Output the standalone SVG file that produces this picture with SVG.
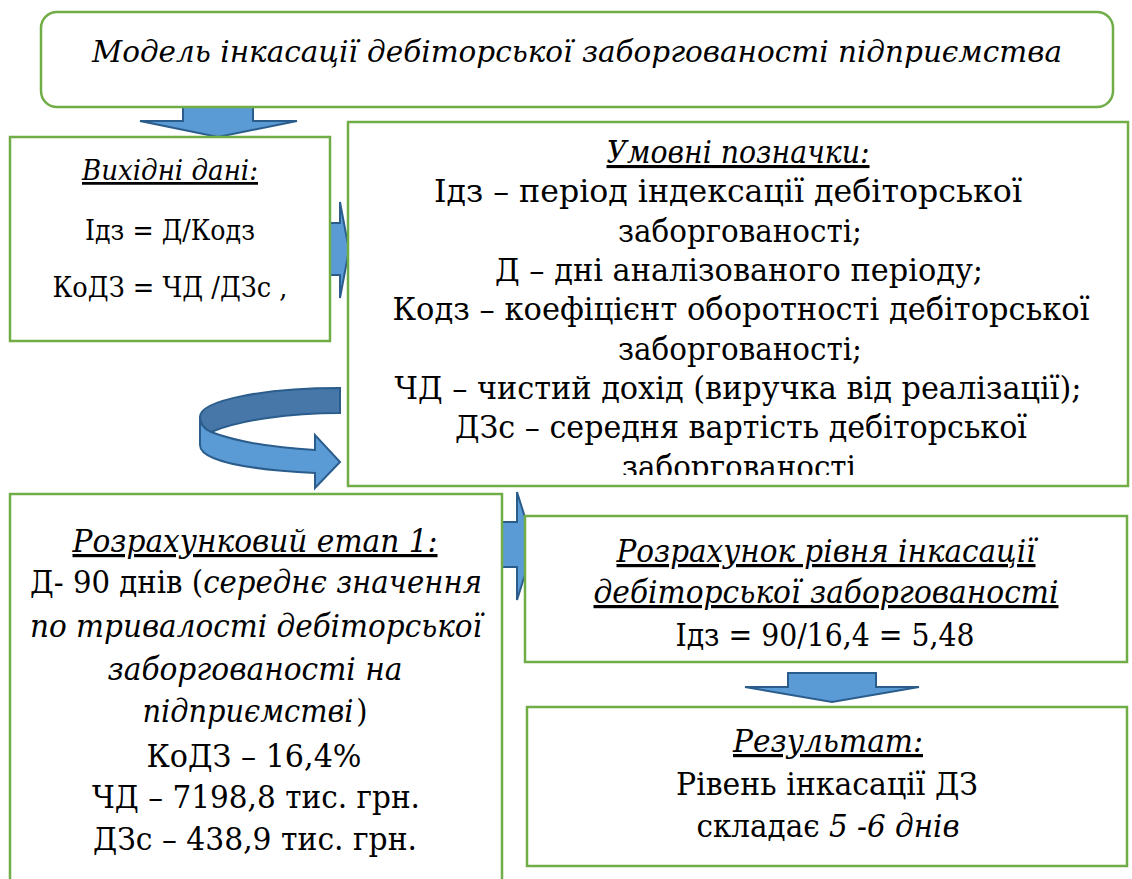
<svg xmlns="http://www.w3.org/2000/svg" width="1132" height="879" viewBox="0 0 1132 879">
<style>
.box{fill:#fff;stroke:#70AD47;stroke-width:2.5}
.arr{fill:#5B9BD5;stroke:#2B5D8C;stroke-width:2;stroke-linejoin:miter}
.arrd{fill:#4677A8;stroke:#2B5D8C;stroke-width:2}
text{font-family:"DejaVu Serif","Liberation Serif",serif;fill:#000;text-anchor:middle}
.it{font-style:italic}
.u{text-decoration:underline}
</style>
<defs>
<clipPath id="clipU"><rect x="348" y="122" width="780" height="353"/></clipPath>
</defs>
<g id="connectors">
<polygon class="arr" points="183,106 253,106 253,121 297,121 218,137 140,121 183,121"/>
<polygon class="arr" points="328,223 340,223 340,202 349,250 340,298 340,275 328,275"/>
<path class="arrd" d="M340,388 C265,388 200,400 200,417 C200,424 204,429 211,432 C240,420 290,413 340,413 Z"/>
<path class="arr" d="M200,417 C200,424 204,429 211,432 C240,443 280,448 315,450 L315,435 L340,462 L315,488 L315,473 C255,470 200,462 200,445 Z"/>
<polygon class="arr" points="502,522 517,522 517,492 534,546 517,600 517,567 502,567"/>
<polygon class="arr" points="788,673 876,673 876,687 919,687 832,702 745,687 788,687"/>
</g>
<g id="title">
<rect class="box" x="41" y="12" width="1072" height="95" rx="16"/>
<text class="it" x="577" y="62" font-size="29.5" textLength="970" lengthAdjust="spacingAndGlyphs">Модель інкасації дебіторської заборгованості підприємства</text>
</g>
<g id="input" font-size="27.5">
<rect class="box" x="10" y="137" width="320" height="204"/>
<text class="it u" x="170" y="180" textLength="176" lengthAdjust="spacingAndGlyphs">Вихідні дані:</text>
<text x="170" y="240" textLength="170" lengthAdjust="spacingAndGlyphs">Ідз = Д/Кодз</text>
<text x="170" y="297" textLength="235" lengthAdjust="spacingAndGlyphs">КоДЗ = ЧД /ДЗс ,</text>
</g>
<g id="legend">
<rect class="box" x="348" y="122" width="780" height="364"/>
<g clip-path="url(#clipU)" font-size="31">
<text class="it u" x="738" y="163" textLength="263" lengthAdjust="spacingAndGlyphs">Умовні позначки:</text>
<text x="728" y="202" textLength="588" lengthAdjust="spacingAndGlyphs">Ідз – період індексації дебіторської</text>
<text x="740" y="242" textLength="244" lengthAdjust="spacingAndGlyphs">заборгованості;</text>
<text x="739" y="281" textLength="488" lengthAdjust="spacingAndGlyphs">Д – дні аналізованого періоду;</text>
<text x="741" y="320" textLength="697" lengthAdjust="spacingAndGlyphs">Кодз – коефіцієнт оборотності дебіторської</text>
<text x="740" y="360" textLength="244" lengthAdjust="spacingAndGlyphs">заборгованості;</text>
<text x="738" y="399" textLength="687" lengthAdjust="spacingAndGlyphs">ЧД – чистий дохід (виручка від реалізації);</text>
<text x="741" y="438" textLength="572" lengthAdjust="spacingAndGlyphs">ДЗс – середня вартість дебіторської</text>
<text x="739" y="478" textLength="234" lengthAdjust="spacingAndGlyphs">заборгованості</text>
</g>
</g>
<g id="stage1">
<rect class="box" x="10" y="494" width="492" height="400"/>
<g font-size="32">
<text class="it u" x="255" y="552" textLength="365" lengthAdjust="spacingAndGlyphs">Розрахунковий етап 1:</text>
<text x="256" y="593" textLength="452" lengthAdjust="spacingAndGlyphs">Д- 90 днів (<tspan class="it">середнє значення</tspan></text>
<text class="it" x="256" y="637" textLength="452" lengthAdjust="spacingAndGlyphs">по тривалості дебіторської</text>
<text class="it" x="255" y="680" textLength="295" lengthAdjust="spacingAndGlyphs">заборгованості на</text>
<text x="255" y="722" textLength="225" lengthAdjust="spacingAndGlyphs"><tspan class="it">підприємстві</tspan><tspan dx="3">)</tspan></text>
<text x="254" y="767" textLength="215" lengthAdjust="spacingAndGlyphs">КоДЗ – 16,4%</text>
<text x="256" y="808" textLength="328" lengthAdjust="spacingAndGlyphs">ЧД – 7198,8 тис. грн.</text>
<text x="255" y="850" textLength="324" lengthAdjust="spacingAndGlyphs">ДЗс – 438,9 тис. грн.</text>
</g>
</g>
<g id="calc">
<rect class="box" x="525" y="516" width="602" height="146"/>
<g font-size="32">
<text class="it u" x="826" y="562" textLength="419" lengthAdjust="spacingAndGlyphs">Розрахунок рівня інкасації</text>
<text class="it u" x="826" y="603" textLength="465" lengthAdjust="spacingAndGlyphs">дебіторської заборгованості</text>
<text x="825" y="646" textLength="299" lengthAdjust="spacingAndGlyphs">Ідз = 90/16,4 = 5,48</text>
</g>
</g>
<g id="result">
<rect class="box" x="527" y="707" width="600" height="159"/>
<g font-size="32">
<text class="it u" x="828" y="752" textLength="190" lengthAdjust="spacingAndGlyphs">Результат:</text>
<text x="827" y="795" textLength="302" lengthAdjust="spacingAndGlyphs">Рівень інкасації ДЗ</text>
<text x="828" y="837" textLength="263" lengthAdjust="spacingAndGlyphs">складає <tspan class="it">5 -6 днів</tspan></text>
</g>
</g>
</svg>
